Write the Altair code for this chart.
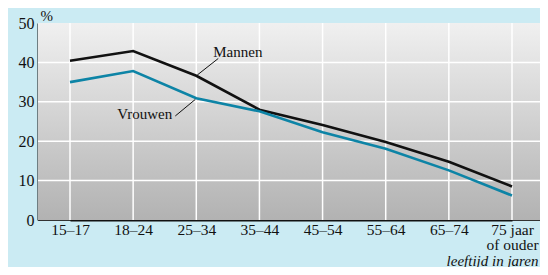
import altair as alt
import pandas as pd

categories = ["15–17", "18–24", "25–34", "35–44", "45–54", "55–64", "65–74", "75 jaar of ouder"]
mannen = [40.4, 42.9, 36.6, 28.0, 24.1, 19.8, 14.8, 8.5]
vrouwen = [35.0, 37.8, 30.9, 27.6, 22.3, 18.1, 12.6, 6.2]
y_ticks = [0, 10, 20, 30, 40, 50]

FONT = "Liberation Serif"
BG = "#cbebf3"
W, H = 502, 197

df = pd.DataFrame(
    {"cat": categories * 2,
     "val": mannen + vrouwen,
     "serie": ["Mannen"] * len(categories) + ["Vrouwen"] * len(categories)}
)

xscale = alt.Scale(type="point", domain=categories, range=[32, 474], padding=0)
yscale = alt.Scale(domain=[0, 50], nice=False)

x_axis = alt.Axis(
    title="leeftijd in jaren", titleFont=FONT, titleFontSize=15,
    titleFontStyle="italic", titleFontWeight="normal", titleColor="#111",
    titleAlign="right", titleAnchor="end", titleX=500, titleY=45,
    titleBaseline="alphabetic",
    labelFont=FONT, labelFontSize=15.5, labelColor="#111", labelAngle=0,
    labelPadding=2, labelLineHeight=15.5, ticks=False, domainColor="#111", domainWidth=2,
    grid=False,
    labelExpr="datum.label == '75 jaar of ouder' ? ['75 jaar', 'of ouder'] : datum.label",
)
y_axis = alt.Axis(
    values=y_ticks, title="%", titleAngle=0, titleFont=FONT, titleFontSize=15,
    titleFontWeight="normal", titleColor="#111", titleAlign="left",
    titleBaseline="alphabetic", titleX=2, titleY=-3,
    labelFont=FONT, labelFontSize=16, labelColor="#111", labelPadding=4,
    ticks=False, domainColor="#111", domainWidth=2, grid=False,
)

bg = alt.Chart(alt.Data(values=[{}])).mark_rect(
    fill=alt.Gradient(
        gradient="linear",
        stops=[alt.GradientStop(color="#f0f0f0", offset=0),
               alt.GradientStop(color="#b2b2b2", offset=1)],
        x1=0, x2=0, y1=0, y2=1,
    )
).encode(x=alt.value(0), x2=alt.value(W), y=alt.value(0), y2=alt.value(H))

hgrid = alt.Chart(pd.DataFrame({"val": y_ticks[1:-1]})).mark_rule(
    color="white", strokeWidth=1.5
).encode(y=alt.Y("val:Q", scale=yscale, axis=y_axis))

vgrid = alt.Chart(pd.DataFrame({"cat": categories})).mark_rule(
    color="white", strokeWidth=1.5
).encode(x=alt.X("cat:N", scale=xscale, axis=x_axis))

lines = alt.Chart(df).mark_line(strokeWidth=2.6).encode(
    x=alt.X("cat:N", scale=xscale, axis=x_axis),
    y=alt.Y("val:Q", scale=yscale, axis=y_axis),
    color=alt.Color("serie:N", scale=alt.Scale(domain=["Mannen", "Vrouwen"],
                                               range=["#111111", "#0d84a6"]),
                    legend=None),
)

ann_m = pd.DataFrame({"cat": ["25–34"], "val": [36.8], "y2": [41.0], "ty": [42.6], "t": ["Mannen"]})
ann_v = pd.DataFrame({"cat": ["25–34"], "val": [30.6], "y2": [26.4], "ty": [27.0], "t": ["Vrouwen"]})

lead_m = alt.Chart(ann_m).mark_rule(color="#111", strokeWidth=1, xOffset=1, x2Offset=22).encode(
    x=alt.X("cat:N", scale=xscale, axis=x_axis), x2="cat:N",
    y=alt.Y("val:Q", scale=yscale, axis=y_axis), y2="y2:Q")
lead_v = alt.Chart(ann_v).mark_rule(color="#111", strokeWidth=1, xOffset=-1, x2Offset=-21).encode(
    x=alt.X("cat:N", scale=xscale, axis=x_axis), x2="cat:N",
    y=alt.Y("val:Q", scale=yscale, axis=y_axis), y2="y2:Q")
txt_m = alt.Chart(ann_m).mark_text(font=FONT, fontSize=15, color="#111", align="left",
                                   baseline="middle", dx=17).encode(
    x=alt.X("cat:N", scale=xscale, axis=x_axis),
    y=alt.Y("ty:Q", scale=yscale, axis=y_axis), text="t:N")
txt_v = alt.Chart(ann_v).mark_text(font=FONT, fontSize=15, color="#111", align="right",
                                   baseline="middle", dx=-24).encode(
    x=alt.X("cat:N", scale=xscale, axis=x_axis),
    y=alt.Y("ty:Q", scale=yscale, axis=y_axis), text="t:N")

chart = alt.layer(bg, hgrid, vgrid, lines, lead_m, lead_v, txt_m, txt_v).properties(
    width=W, height=H, background=BG,
    padding={"left": 30, "top": 15, "right": 0, "bottom": 47},
    autosize=alt.AutoSizeParams(type="none"),
).configure_view(stroke="#333", strokeWidth=1)

chart.save("out.html", embed_options={"renderer": "svg", "actions": False})
